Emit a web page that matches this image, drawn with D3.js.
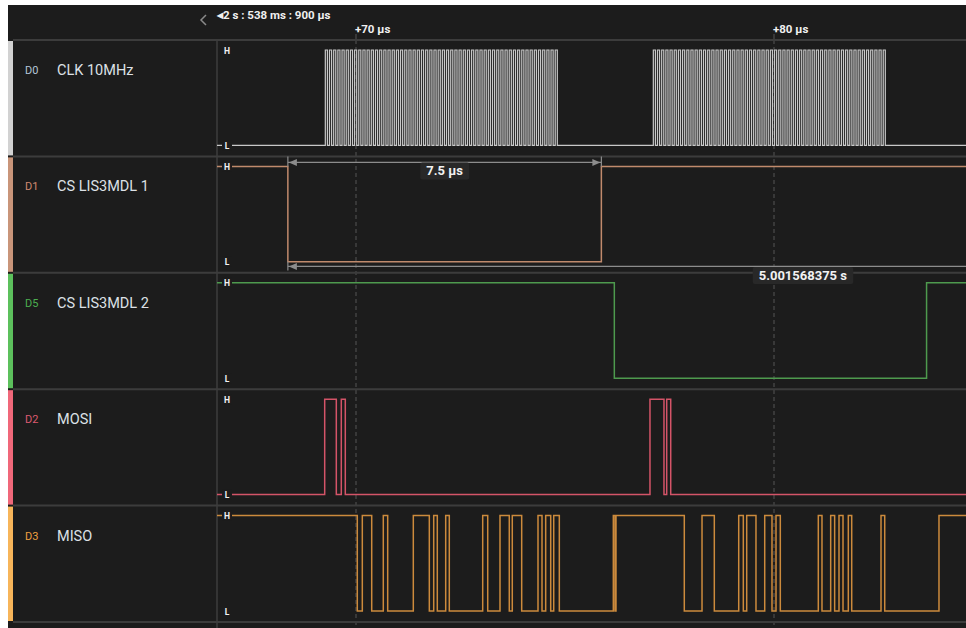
<!DOCTYPE html>
<html>
<head>
<meta charset="utf-8">
<script src="https://cdn.jsdelivr.net/npm/d3@7"></script>
<style>
    body { margin: 0; background: #fff; }
    svg { display: block; font-family: Roboto, "Noto Sans", sans-serif; }
</style>
</head>
<body>
<svg id="chart" width="966" height="628"></svg>
<script>
// channels, top to bottom
const channelCodes = ["D0", "D1", "D5", "D2", "D3"];
const channelNames = ["CLK 10MHz", "CS LIS3MDL 1", "CS LIS3MDL 2", "MOSI", "MISO"];
const barColors = ["#d2d2d2", "#c9957a", "#5cc05c", "#f0687a", "#f7b55a"];
const codeColors = ["#b4c6d8", "#d08a70", "#4caf50", "#dc5a70", "#f0a040"];
const lineColors = ["#c8c8c8", "#c08a6c", "#4e9a4e", "#d45468", "#cc8a3c"];

// starting level of every channel at the left edge (1 = H)
const startLevels = [0, 1, 1, 0, 1];

// edge times, µs after the origin
const clkPeriod = 0.1;                 // 10 MHz
const clkBurstStarts = [69.266, 77.113];
const clkBurstCycles = [56, 56];
const cs1Edges = [68.37, 75.87];
const cs2Edges = [76.18, 83.65];
const mosiEdges = [69.251, 69.529, 69.648, 69.744, 77.033, 77.368, 77.433, 77.529];
const misoEdges = [70.031, 70.151, 70.376, 70.653, 70.758, 71.371, 71.754, 71.859,
    71.945, 72.146, 72.232, 73.031, 73.151, 73.445, 73.667, 73.739, 73.964, 74.354,
    74.450, 74.538, 74.658, 74.730, 74.864, 76.156, 76.196, 76.220, 77.854, 78.278,
    78.572, 79.156, 79.266, 79.347, 79.569, 79.778, 79.952, 80.048, 80.151, 81.060,
    81.148, 81.356, 81.451, 81.555, 81.651, 81.778, 81.859, 82.560, 82.649, 83.947];

// time axis
const tickTimes = [70, 80];
const tickLabels = ["+70 µs", "+80 µs"];
const originLabel = "2 s : 538 ms : 900 µs";

// measurements
const widthLabel = "7.5 µs";
const periodLabel = "5.001568375 s";
const periodLabelTime = 80.69;

// build clock edges from the bursts
let clkEdges = [];
clkBurstStarts.forEach((s, i) => {
    for (let k = 0; k < clkBurstCycles[i]; k++) {
        clkEdges.push(s + k * clkPeriod, s + (k + 0.5) * clkPeriod);
    }
});
const channelEdges = [clkEdges, cs1Edges, cs2Edges, mosiEdges, misoEdges];

const svg = d3.select("#chart");
const bg = "#1c1c1c";
const gridColor = "#3c3c3c";

const plotLeft = 217, plotRight = 966;
const rowsTop = 40, rowsBottom = 622;

const x = d3.scaleLinear().domain([70, 80]).range([356, 774]);
const tStart = x.invert(plotLeft), tEnd = x.invert(plotRight);

const rows = d3.scaleBand().domain(channelCodes).range([rowsTop, rowsBottom]);

function levelScale(code) {
    const top = rows(code);
    return d3.scaleLinear().domain([0, 1]).range([top + rows.bandwidth() - 11, top + 10]);
}

// background
svg.append("rect")
    .attr("x", 8).attr("y", 5)
    .attr("width", 958).attr("height", 623)
    .attr("fill", bg);

// dashed time grid
svg.selectAll(".grid")
    .data(tickTimes)
    .join("line")
    .attr("x1", d => x(d)).attr("x2", d => x(d))
    .attr("y1", rowsTop).attr("y2", 628)
    .attr("stroke", "#555")
    .attr("stroke-width", 1)
    .attr("stroke-dasharray", "4,3");

// header ticks + labels
svg.selectAll(".htick")
    .data(tickTimes)
    .join("line")
    .attr("x1", d => x(d)).attr("x2", d => x(d))
    .attr("y1", 34).attr("y2", rowsTop)
    .attr("stroke", "#555");

svg.selectAll(".hlabel")
    .data(tickTimes)
    .join("text")
    .attr("x", d => x(d) - 1)
    .attr("y", 33)
    .attr("fill", "#f0f0f0")
    .attr("font-size", "11.5px")
    .attr("font-weight", "bold")
    .text((d, i) => tickLabels[i]);

const origin = svg.append("text")
    .attr("x", plotLeft)
    .attr("y", 19)
    .attr("fill", "#f0f0f0")
    .attr("font-size", "11.5px")
    .attr("font-weight", "bold");
origin.append("tspan").attr("font-size", "8px").attr("dy", -1).text("\u25C0");
origin.append("tspan").attr("dy", 1).text(originLabel);

// chevron
svg.append("path")
    .attr("d", "M206,15 L201,20 L206,25")
    .attr("fill", "none")
    .attr("stroke", "#8a8a8a")
    .attr("stroke-width", 1.5);

// row separators
const sepYs = [rowsTop].concat(channelCodes.slice(1).map(c => rows(c)), [rowsBottom]);
svg.selectAll(".sep")
    .data(sepYs)
    .join("line")
    .attr("x1", 13).attr("x2", 966)
    .attr("y1", d => d).attr("y2", d => d)
    .attr("stroke", gridColor)
    .attr("stroke-width", 2);

svg.append("line")
    .attr("x1", plotLeft).attr("x2", plotLeft)
    .attr("y1", rowsTop).attr("y2", 628)
    .attr("stroke", gridColor)
    .attr("stroke-width", 1.5);

// colour bars + channel labels
channelCodes.forEach((code, i) => {
    const top = rows(code);
    svg.append("rect")
        .attr("x", 8).attr("y", top + 1)
        .attr("width", 5).attr("height", rows.bandwidth() - 2)
        .attr("fill", barColors[i]);

    svg.append("text")
        .attr("x", 25).attr("y", top + 34)
        .attr("fill", codeColors[i])
        .attr("font-size", "11px")
        .text(code);

    svg.append("text")
        .attr("x", 57).attr("y", top + 35)
        .attr("fill", "#dde1e6")
        .attr("font-size", "14.5px")
        .text(channelNames[i]);
});

// signals
channelCodes.forEach((code, i) => {
    const y = levelScale(code);
    let lvl = startLevels[i];
    const pts = [[tStart, lvl]];
    channelEdges[i].forEach(e => {
        lvl = 1 - lvl;
        pts.push([e, lvl]);
    });
    pts.push([tEnd, lvl]);

    const line = d3.line()
        .x(d => x(d[0]))
        .y(d => y(d[1]))
        .curve(d3.curveStepAfter);

    svg.append("path")
        .datum(pts)
        .attr("d", line)
        .attr("fill", "none")
        .attr("stroke", lineColors[i])
        .attr("stroke-width", i === 0 ? 1.2 : 1.5);

    // H / L markers
    [1, 0].forEach(v => {
        svg.append("rect")
            .attr("x", 222).attr("y", y(v) - 5)
            .attr("width", 10).attr("height", 10)
            .attr("fill", bg);
        svg.append("text")
            .attr("x", 227).attr("y", y(v) + 3.5)
            .attr("text-anchor", "middle")
            .attr("fill", "#f2f2f2")
            .attr("font-size", "8.5px")
            .attr("font-weight", "bold")
            .text(v ? "H" : "L");
    });
});

// measurement brackets on CS LIS3MDL 1
const mColor = "#8c8c8c";
const yTop = rows("D1") + 6;
const yBot = rows("D1") + 110;
const xa = x(cs1Edges[0]), xb = x(cs1Edges[1]);

svg.append("line")
    .attr("x1", xa).attr("x2", xb)
    .attr("y1", yTop).attr("y2", yTop)
    .attr("stroke", mColor).attr("stroke-width", 1.2);
[xa, xb].forEach(xx => {
    svg.append("line")
        .attr("x1", xx).attr("x2", xx)
        .attr("y1", yTop - 6).attr("y2", yTop + 4)
        .attr("stroke", mColor).attr("stroke-width", 1.2);
});
svg.append("path")
    .attr("d", `M${xa + 1},${yTop} L${xa + 9},${yTop - 3.5} L${xa + 9},${yTop + 3.5} Z`)
    .attr("fill", mColor);
svg.append("path")
    .attr("d", `M${xb - 1},${yTop} L${xb - 9},${yTop - 3.5} L${xb - 9},${yTop + 3.5} Z`)
    .attr("fill", mColor);

svg.append("line")
    .attr("x1", xa).attr("x2", plotRight)
    .attr("y1", yBot).attr("y2", yBot)
    .attr("stroke", mColor).attr("stroke-width", 1.2);
svg.append("line")
    .attr("x1", xa).attr("x2", xa)
    .attr("y1", yBot - 5).attr("y2", yBot + 4)
    .attr("stroke", mColor).attr("stroke-width", 1.2);
svg.append("path")
    .attr("d", `M${xa + 1},${yBot} L${xa + 9},${yBot - 3.5} L${xa + 9},${yBot + 3.5} Z`)
    .attr("fill", mColor);

function labelBox(cx, cy, txt) {
    const g = svg.append("g");
    const t = g.append("text")
        .attr("x", cx).attr("y", cy + 4.5)
        .attr("text-anchor", "middle")
        .attr("fill", "#f2f2f2")
        .attr("font-size", "13px")
        .attr("font-weight", "bold")
        .text(txt);
    const b = t.node().getBBox();
    g.insert("rect", "text")
        .attr("x", b.x - 6).attr("y", cy - 8.5)
        .attr("width", b.width + 12).attr("height", 17)
        .attr("rx", 2)
        .attr("fill", "#282828");
}

labelBox((xa + xb) / 2, yTop + 8.5, widthLabel);
labelBox(x(periodLabelTime), yBot + 9, periodLabel);
</script>
</body>
</html>
